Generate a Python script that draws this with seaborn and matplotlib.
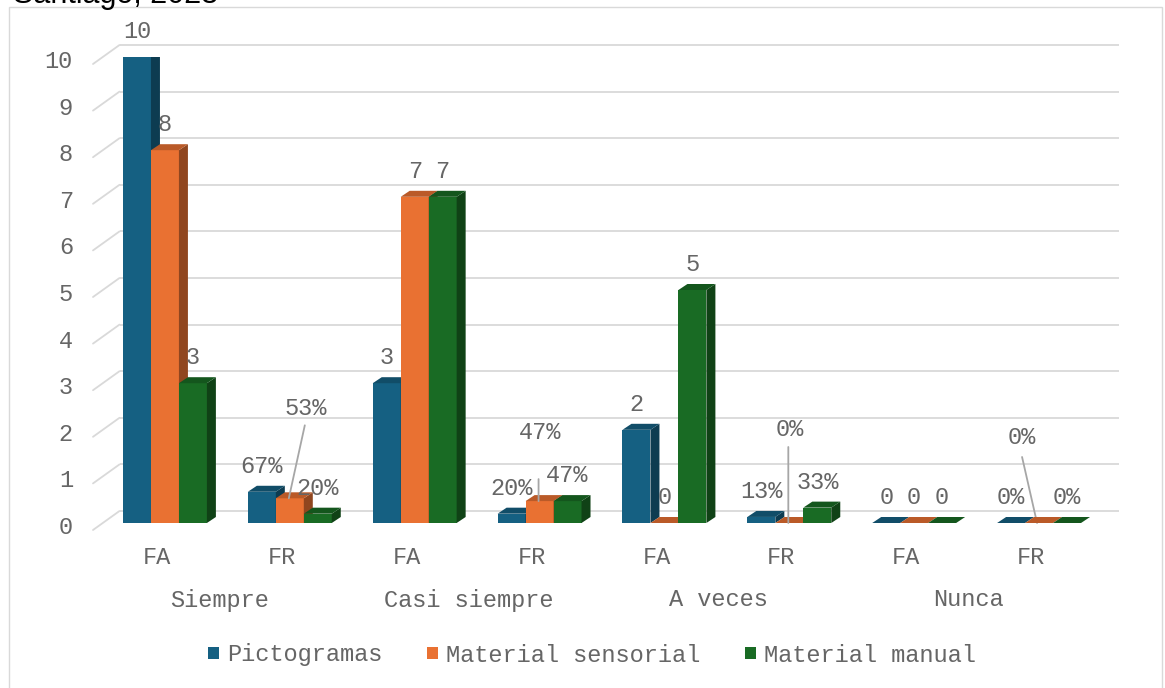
import numpy as np
import pandas as pd
import matplotlib
matplotlib.use("Agg")
import matplotlib.pyplot as plt
import matplotlib.colors as mcolors
from matplotlib.patches import Polygon, Rectangle
import seaborn as sns

# ---- data -------------------------------------------------------------
respuestas = ["Siempre", "Casi siempre", "A veces", "Nunca"]
medidas = ["FA", "FR"]
series = ["Pictogramas", "Material sensorial", "Material manual"]

# absolute frequency (FA) per answer
fa_pictogramas = [10, 3, 2, 0]
fa_sensorial = [8, 7, 0, 0]
fa_manual = [3, 7, 5, 0]
# relative frequency (FR) per answer
fr_pictogramas = [0.67, 0.20, 0.13, 0.00]
fr_sensorial = [0.53, 0.47, 0.00, 0.00]
fr_manual = [0.20, 0.47, 0.33, 0.00]

colores = ["#156082", "#E97132", "#196B24"]

fa = [fa_pictogramas, fa_sensorial, fa_manual]
fr = [fr_pictogramas, fr_sensorial, fr_manual]

rows = []
for i, resp in enumerate(respuestas):
    for med in medidas:
        for s, serie in enumerate(series):
            if med == "FA":
                val = fa[s][i]
                lab = f"{val:d}"
            else:
                val = fr[s][i]
                lab = f"{round(val * 100):d}%"
            rows.append({"pos": f"{resp} {med}", "resp": i, "med": med,
                         "serie": serie, "sidx": s, "valor": val, "etiqueta": lab})
df = pd.DataFrame(rows)
pos_order = list(dict.fromkeys(df["pos"]))

# ---- figure -----------------------------------------------------------
sns.set_theme(style="white")
plt.rcParams["font.family"] = ["Liberation Mono", "DejaVu Sans Mono"]
TXT = "#666666"
GRID = "#d9d9d9"
FS = 17

W, H = 1165, 688
fig = plt.figure(figsize=(W / 100, H / 100), dpi=100)
fig.patch.set_facecolor("white")
ax_l, ax_b, ax_w, ax_h = 102.5, 165.0, 999.0, 466.0
ax = fig.add_axes([ax_l / W, ax_b / H, ax_w / W, ax_h / H])

sns.barplot(data=df, x="pos", y="valor", hue="serie", order=pos_order,
            hue_order=series, palette=colores, width=0.672, saturation=1,
            errorbar=None, legend=False, linewidth=0, ax=ax)
ax.set_xlim(-0.5, len(pos_order) - 0.5)
ax.set_ylim(0, 10)
ax.set_axis_off()

sx = len(pos_order) / ax_w   # data units per pixel (x)
sy = 10.0 / ax_h             # data units per pixel (y)

# back wall grid and left wall diagonals
BX, BY = 17.0, 12.0      # back wall offset (px)
FX, FY = -9.5, -7.0      # front plane offset (px)
x0_ax = -0.5
x1_ax = len(pos_order) - 0.5
for v in range(0, 11):
    ax.plot([x0_ax + BX * sx, x1_ax + BX * sx], [v + BY * sy, v + BY * sy],
            color=GRID, lw=1.3, zorder=0, clip_on=False, solid_capstyle="butt")
    ax.plot([x0_ax + FX * sx, x0_ax + BX * sx], [v + FY * sy, v + BY * sy],
            color=GRID, lw=1.3, zorder=0, clip_on=False)
    ax.annotate(str(v), xy=(x0_ax, v), xytext=(-29.5, -4.5),
                textcoords="offset pixels", ha="right", va="center",
                fontsize=FS, color=TXT, annotation_clip=False)

# 3D depth for each bar: top and side faces
DX, DY = 9.0, 6.0
def shade(c, f):
    r, g, b = mcolors.to_rgb(c)
    return (r * f, g * f, b * f)

patches = sorted(ax.patches, key=lambda p: p.get_x())
recs = df.copy()
recs["pidx"] = recs["pos"].map({p: k for k, p in enumerate(pos_order)})
recs = recs.sort_values(["pidx", "sidx"]).reset_index(drop=True)

dxd, dyd = DX * sx, DY * sy
bar_tops = []
for k, (p, (_, r)) in enumerate(zip(patches, recs.iterrows())):
    x0, w, h = p.get_x(), p.get_width(), p.get_height()
    c = colores[r["sidx"]]
    z = 2 + 3 * k
    p.set_zorder(z)
    top = Polygon([(x0, h), (x0 + w, h), (x0 + w + dxd, h + dyd), (x0 + dxd, h + dyd)],
                  closed=True, facecolor=shade(c, 0.80), edgecolor="none", zorder=z + 1)
    side = Polygon([(x0 + w, 0), (x0 + w + dxd, dyd), (x0 + w + dxd, h + dyd), (x0 + w, h)],
                   closed=True, facecolor=shade(c, 0.62), edgecolor="none", zorder=z + 1)
    ax.add_patch(side)
    ax.add_patch(top)
    bar_tops.append((x0 + w / 2, h, r))

# value labels (some FR labels are moved aside with a leader line)
moved = {
    (0, 1): ((16, 90), (15, 73), (-1, 0)),
    (1, 1): ((0, 69), (-1, 22), (-1, 0)),
    (2, 1): ((0, 94), (-1, 76), (-1, 0)),
    (3, 1): ((-17, 85), (-17, 66), (-2, 0)),
}
for cx, h, r in bar_tops:
    key = (r["resp"], r["sidx"])
    if r["med"] == "FR" and key in moved:
        lab_off, l0, l1 = moved[key]
        ax.annotate("", xy=(cx + l1[0] * sx, h + l1[1] * sy),
                    xytext=(cx + l0[0] * sx, h + l0[1] * sy),
                    arrowprops=dict(arrowstyle="-", color="#a6a6a6", lw=1.3,
                                    shrinkA=0, shrinkB=0), zorder=60,
                    annotation_clip=False)
    else:
        lab_off = (0, 25.5)
    ax.annotate(r["etiqueta"], xy=(cx, h), xytext=lab_off,
                textcoords="offset pixels", ha="center", va="center",
                fontsize=FS, color=TXT, zorder=70, annotation_clip=False)

# category labels
for j, pos in enumerate(pos_order):
    ax.annotate(medidas[j % 2], xy=(j, 0), xytext=(-8, -34),
                textcoords="offset pixels", ha="center", va="center",
                fontsize=FS, color=TXT, annotation_clip=False)
for i, resp in enumerate(respuestas):
    ax.annotate(resp, xy=(2 * i + 0.5, 0), xytext=(-8, -77),
                textcoords="offset pixels", ha="center", va="center",
                fontsize=FS, color=TXT, annotation_clip=False)

# legend
handles = [Rectangle((0, 0), 1, 1, facecolor=c, edgecolor="none") for c in colores]
fig.legend(handles, series, loc="center", bbox_to_anchor=(592 / W, 1 - 655 / H),
           ncol=3, frameon=False, fontsize=FS, labelcolor=TXT,
           handlelength=0.45, handleheight=0.45, handletextpad=0.35,
           columnspacing=1.9, borderpad=0, borderaxespad=0)

# chart border and the title running above the top edge
fig.add_artist(Rectangle((9 / W, -0.05), (1162 - 9) / W, 1.05 - 7 / H,
                         transform=fig.transFigure, facecolor="none",
                         edgecolor=GRID, lw=1.0))
fig.text(13 / W, 1 - 3 / H, "Santiago, 2023", fontsize=22, color="black",
         family="Liberation Sans", ha="left", va="baseline")

fig.savefig("out.png", dpi=100, facecolor="white")
